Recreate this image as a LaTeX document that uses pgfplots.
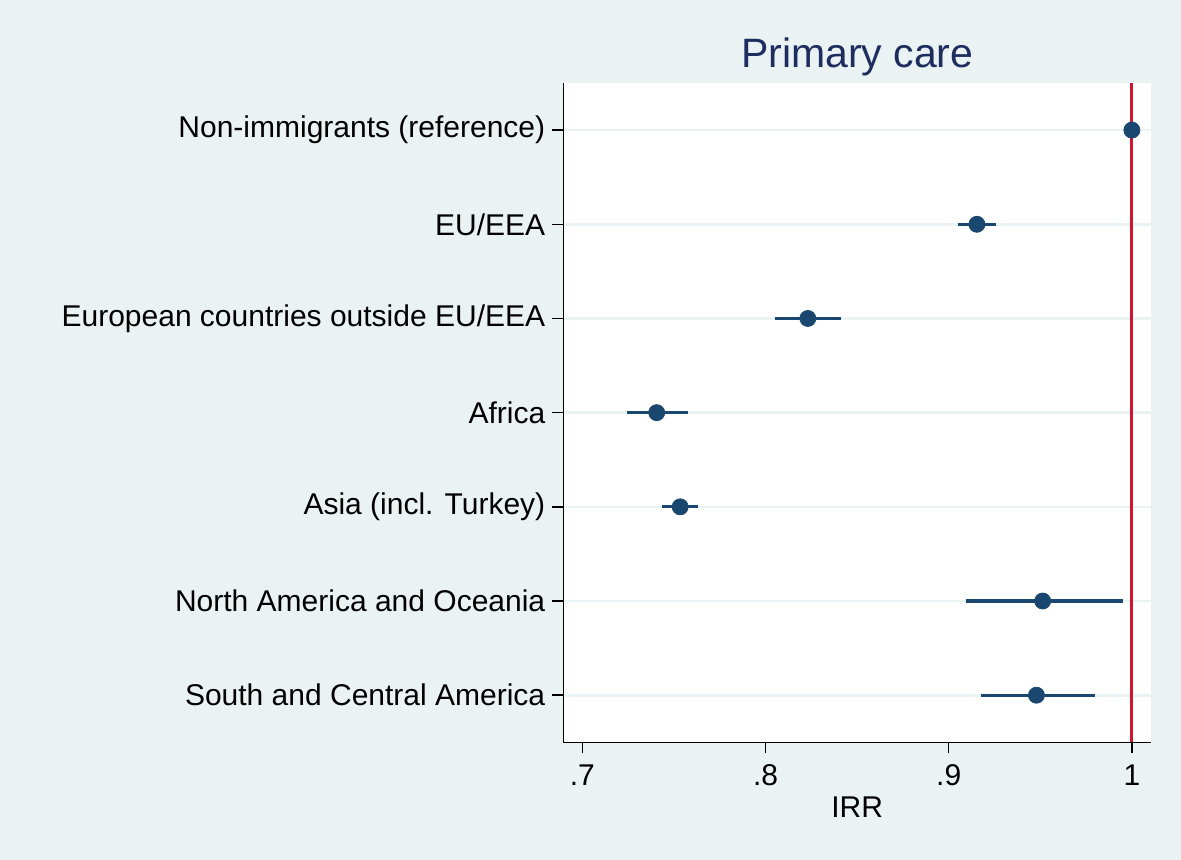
\documentclass[border=0pt]{standalone}
\usepackage{pgfplots}
\pgfplotsset{compat=1.18}
\usepackage{pgfplotstable}
\usepackage{fontspec}
\setmainfont{Liberation Sans}
\definecolor{bg}{RGB}{234,242,243}
\definecolor{navy}{RGB}{26,71,111}
\definecolor{ttl}{RGB}{30,45,95}
\definecolor{xred}{RGB}{210,20,50}

\pgfplotstableread{
y est lo hi
7 1.0000 1.0000 1.0000
6 0.9154 0.9053 0.9256
5 0.8231 0.8053 0.8412
4 0.7406 0.7242 0.7579
3 0.7534 0.7437 0.7630
2 0.9513 0.9094 0.9950
1 0.9479 0.9176 0.9796
}\ci

\begin{document}
\begin{tikzpicture}
\fill[bg] (-281.65pt,-58.85pt) rectangle (308.85pt,371.15pt);
\begin{axis}[
  at={(0pt,0pt)}, anchor=south west,
  scale only axis, width=293.9pt, height=329.65pt,
  xmin=0.6896, xmax=1.0105, ymin=0.5, ymax=7.5,
  axis x line*=bottom, axis y line*=left,
  axis line style={-, black, line width=0.75pt},
  axis background/.style={fill=white},
  tick align=outside, major tick length=5.5pt,
  tick style={black, line width=0.75pt},
  xtick={0.7,0.8,0.9,1},
  xticklabels={\textnormal{.7},\textnormal{.8},\textnormal{.9},\textnormal{1}},
  ytick={1,2,3,4,5,6,7},
  yticklabels={South and Central America, North America and Oceania, Asia (incl. Turkey), Africa, European countries outside EU/EEA, EU/EEA, Non-immigrants (reference)},
  ticklabel style={font=\fontsize{15}{18}\selectfont},
  xticklabel style={yshift=-2pt},
  ymajorgrids, major grid style={bg, line width=1.3pt},
  title={Primary care},
  title style={font=\fontsize{20.5}{24}\selectfont, color=ttl, at={(0.5,1)}, anchor=base, yshift=2pt},
  xlabel={IRR},
  xlabel style={font=\fontsize{15}{18}\selectfont, at={(axis description cs:0.5,0)}, anchor=base, yshift=-37.5pt},
]
\addplot[xred, line width=1.6pt, forget plot] coordinates {(1,0.5) (1,7.5)};
\addplot[draw=none, mark=none, forget plot,
  error bars/.cd, x dir=both, x explicit, error mark=none,
  error bar style={draw=navy, line width=1.6pt}]
  table[x=est, y=y, x error plus expr=\thisrow{hi}-\thisrow{est}, x error minus expr=\thisrow{est}-\thisrow{lo}] {\ci};
\addplot[only marks, mark=*, mark size=4pt, color=navy, mark options={fill=navy, draw=navy}] table[x=est, y=y] {\ci};
\end{axis}
\end{tikzpicture}
\end{document}
